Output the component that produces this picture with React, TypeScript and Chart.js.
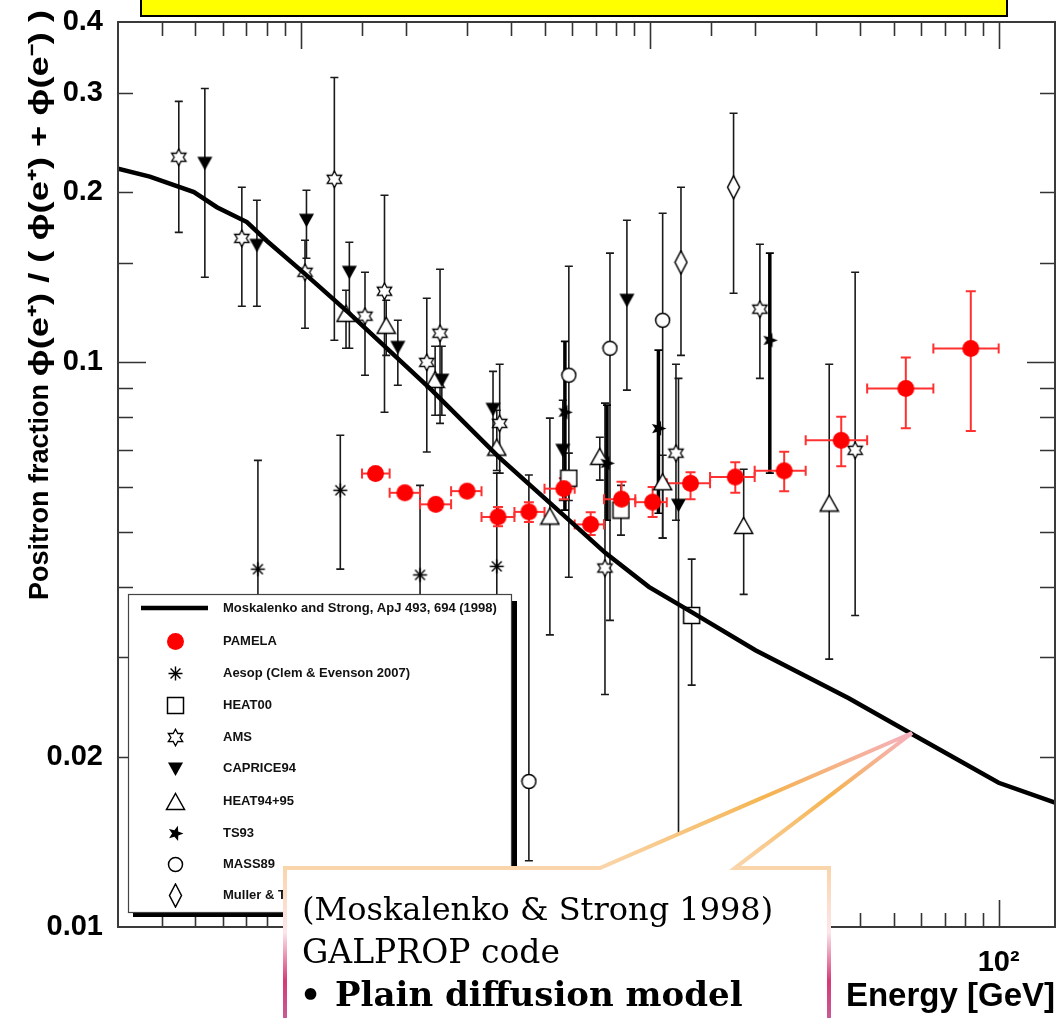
import React, { useEffect, useRef } from 'react';
import { Chart, registerables } from 'chart.js';

Chart.register(...registerables);

const FONT = '"Liberation Sans", Arial, Helvetica, sans-serif';

// ---------------- axes ----------------
const xRange = [0.3, 145];
const yRange = [0.01, 0.4];
const xLabelValues = [1, 10, 100];
const xLabelTexts = ['1', '10', '10²'];
const yLabelValues = [0.01, 0.02, 0.1, 0.2, 0.3, 0.4];
const yLabelTexts = ['0.01', '0.02', '0.1', '0.2', '0.3', '0.4'];
const xAxisTitle = 'Energy [GeV]';
const yAxisTitleParts = ['Positron fraction ', 'ϕ(e⁺) / ( ϕ(e⁺) + ϕ(e⁻) )'];

// ---------------- model curve (Moskalenko & Strong 1998) ----------------
const curveE = [0.3, 0.37, 0.495, 0.576, 0.702, 0.8, 1.02, 1.38, 2.38, 3.7, 5.74, 7.48, 9.95, 13.2, 20.1, 37.2, 56.1, 100, 145];
const curveF = [0.22, 0.213, 0.2, 0.188, 0.177, 0.164, 0.144, 0.122, 0.0891, 0.0679, 0.0532, 0.0459, 0.04, 0.0361, 0.0309, 0.0254, 0.022, 0.018, 0.0166];

// ---------------- PAMELA ----------------
const pamelaE = [1.64, 1.99, 2.44, 3.0, 3.68, 4.51, 5.68, 6.78, 8.31, 10.2, 13.1, 17.6, 24.3, 35.4, 54.2, 83.2];
const pamelaElo = [1.5, 1.8, 2.2, 2.7, 3.3, 4.1, 5.0, 6.1, 7.4, 9.1, 11.2, 14.9, 20, 28, 42, 65];
const pamelaEhi = [1.8, 2.2, 2.7, 3.3, 4.1, 5.0, 6.1, 7.4, 9.1, 11.2, 14.9, 20, 28, 42, 65, 100];
const pamelaF = [0.0635, 0.0587, 0.056, 0.0591, 0.0532, 0.0543, 0.0597, 0.0516, 0.0572, 0.0565, 0.061, 0.0626, 0.0642, 0.0727, 0.0898, 0.1057];
const pamelaFlo = [0.0624, 0.0576, 0.0549, 0.0579, 0.0512, 0.0521, 0.0572, 0.0494, 0.0547, 0.0532, 0.0572, 0.0587, 0.0591, 0.0654, 0.0764, 0.0755];
const pamelaFhi = [0.0646, 0.0598, 0.0571, 0.0603, 0.0554, 0.0565, 0.0623, 0.0542, 0.0614, 0.0601, 0.0638, 0.0665, 0.0694, 0.08, 0.1019, 0.1335];

// ---------------- AMS ----------------
const amsE = [0.448, 0.679, 1.03, 1.25, 1.53, 1.74, 2.3, 2.51, 3.72, 7.45, 11.9, 20.7, 38.8];
const amsF = [0.2305, 0.1656, 0.1442, 0.2107, 0.1206, 0.1335, 0.0999, 0.1125, 0.0779, 0.0432, 0.069, 0.1241, 0.0698];
const amsLo = [0.1697, 0.1256, 0.1148, 0.1093, 0.0948, 0.0815, 0.0693, 0.0779, 0.0636, 0.0258, 0.0525, 0.0936, 0.0356];
const amsHi = [0.2894, 0.204, 0.1643, 0.319, 0.1442, 0.1974, 0.1297, 0.146, 0.0991, 0.0846, 0.0991, 0.1617, 0.1442];

// ---------------- CAPRICE94 ----------------
const capE = [0.532, 0.75, 1.04, 1.38, 1.9, 2.54, 3.56, 5.64, 8.61, 12.1];
const capF = [0.2249, 0.161, 0.1783, 0.1442, 0.1062, 0.0929, 0.0825, 0.0698, 0.1287, 0.0558];
const capLo = [0.1413, 0.1256, 0.1527, 0.1058, 0.091, 0.0805, 0.0698, 0.0569, 0.0892, 0.012];
const capHi = [0.305, 0.1934, 0.2015, 0.163, 0.1186, 0.1067, 0.0963, 0.0856, 0.1783, 0.0936];

// ---------------- HEAT94+95 ----------------
const heat95E = [1.35, 1.76, 2.43, 3.65, 5.18, 7.2, 10.9, 18.6, 32.7];
const heat95F = [0.122, 0.1162, 0.0932, 0.0707, 0.0534, 0.0681, 0.0614, 0.0514, 0.0563];
const heat95Lo = [0.1058, 0.1028, 0.0805, 0.0643, 0.0329, 0.0618, 0.0488, 0.0388, 0.0298];
const heat95Hi = [0.134, 0.1287, 0.1067, 0.0822, 0.0796, 0.0736, 0.0684, 0.0646, 0.0991];

// ---------------- HEAT00 ----------------
const heat00E = [5.87, 8.28, 13.2];
const heat00F = [0.0623, 0.0547, 0.0356];
const heat00Lo = [0.0569, 0.0494, 0.0268];
const heat00Hi = [0.069, 0.0605, 0.0448];

// ---------------- TS93 ----------------
const ts93E = [5.72, 7.55, 10.6, 22.1];
const ts93F = [0.0815, 0.0662, 0.0763, 0.1093];
const ts93Lo = [0.0547, 0.0525, 0.054, 0.0636];
const ts93Hi = [0.1088, 0.0839, 0.105, 0.1559];

// ---------------- MASS89 ----------------
const massE = [4.51, 5.87, 7.7, 10.9];
const massF = [0.0181, 0.0948, 0.1058, 0.1186];
const massLo = [0.0131, 0.0416, 0.0349, 0.0488];
const massHi = [0.0631, 0.1478, 0.1559, 0.1834];

// ---------------- Muller & Tang ----------------
const mullerE = [12.3, 17.4];
const mullerF = [0.1502, 0.204];
const mullerLo = [0.1028, 0.1324];
const mullerHi = [0.204, 0.2757];

// ---------------- Aesop ----------------
const aesopE = [0.755, 1.3, 2.2, 3.65];
const aesopF = [0.043, 0.0593, 0.042, 0.0435];
const aesopLo = [0.025, 0.043, 0.028, 0.028];
const aesopHi = [0.067, 0.0742, 0.0605, 0.0636];

const legendLabels = [
  'Moskalenko and Strong, ApJ 493, 694 (1998)',
  'PAMELA',
  'Aesop (Clem & Evenson 2007)',
  'HEAT00',
  'AMS',
  'CAPRICE94',
  'HEAT94+95',
  'TS93',
  'MASS89',
  'Muller & Tang 1987',
];

const calloutLines = ['(Moskalenko & Strong 1998)', 'GALPROP code', 'Plain diffusion model'];

function pts(E: number[], F: number[], lo: number[], hi: number[], elo?: number[], ehi?: number[]) {
  return E.map((e, i) => ({
    x: e,
    y: F[i],
    yMin: lo[i],
    yMax: hi[i],
    xMin: elo ? elo[i] : undefined,
    xMax: ehi ? ehi[i] : undefined,
  }));
}

function mk(w: number, h: number, fn: (g: CanvasRenderingContext2D, cx: number, cy: number) => void) {
  const c = document.createElement('canvas');
  c.width = w;
  c.height = h;
  const g = c.getContext('2d') as CanvasRenderingContext2D;
  fn(g, w / 2, h / 2);
  return c;
}

function makeMarkers() {
  const pamela = mk(19, 19, (g, cx, cy) => {
    g.fillStyle = '#ff0000';
    g.beginPath();
    g.arc(cx, cy, 8.5, 0, Math.PI * 2);
    g.fill();
  });
  const aesop = mk(17, 17, (g, cx, cy) => {
    g.strokeStyle = '#000';
    g.lineWidth = 1.4;
    g.beginPath();
    for (let k = 0; k < 4; k++) {
      const a = (k * Math.PI) / 4;
      g.moveTo(cx - 7 * Math.cos(a), cy - 7 * Math.sin(a));
      g.lineTo(cx + 7 * Math.cos(a), cy + 7 * Math.sin(a));
    }
    g.stroke();
  });
  const heat00 = mk(19, 19, (g) => {
    g.fillStyle = '#fff';
    g.fillRect(1.5, 1.5, 16, 16);
    g.strokeStyle = '#000';
    g.lineWidth = 1.5;
    g.strokeRect(1.5, 1.5, 16, 16);
  });
  const ams = mk(19, 19, (g, cx, cy) => {
    g.beginPath();
    for (let i = 0; i < 12; i++) {
      const r = i % 2 === 0 ? 8.3 : 4.6;
      const a = -Math.PI / 2 + (i * Math.PI) / 6;
      const px = cx + r * Math.cos(a);
      const py = cy + r * Math.sin(a);
      if (i === 0) g.moveTo(px, py);
      else g.lineTo(px, py);
    }
    g.closePath();
    g.fillStyle = '#fff';
    g.fill();
    g.strokeStyle = '#000';
    g.lineWidth = 1.3;
    g.stroke();
  });
  const caprice = mk(17, 16, (g) => {
    g.fillStyle = '#000';
    g.beginPath();
    g.moveTo(1, 1.5);
    g.lineTo(16, 1.5);
    g.lineTo(8.5, 15);
    g.closePath();
    g.fill();
  });
  const heat95 = mk(21, 19, (g) => {
    g.beginPath();
    g.moveTo(10.5, 1.5);
    g.lineTo(19.5, 17.5);
    g.lineTo(1.5, 17.5);
    g.closePath();
    g.fillStyle = '#fff';
    g.fill();
    g.strokeStyle = '#000';
    g.lineWidth = 1.5;
    g.stroke();
  });
  const ts93 = mk(17, 17, (g, cx, cy) => {
    g.beginPath();
    for (let i = 0; i < 10; i++) {
      const r = i % 2 === 0 ? 8 : 3.4;
      const a = -Math.PI / 2 + 0.3 + (i * Math.PI) / 5;
      const px = cx + r * Math.cos(a);
      const py = cy + r * Math.sin(a);
      if (i === 0) g.moveTo(px, py);
      else g.lineTo(px, py);
    }
    g.closePath();
    g.fillStyle = '#000';
    g.fill();
  });
  const mass89 = mk(17, 17, (g, cx, cy) => {
    g.beginPath();
    g.arc(cx, cy, 7, 0, Math.PI * 2);
    g.fillStyle = '#fff';
    g.fill();
    g.strokeStyle = '#000';
    g.lineWidth = 1.5;
    g.stroke();
  });
  const muller = mk(15, 25, (g) => {
    g.beginPath();
    g.moveTo(7.5, 1);
    g.lineTo(13.5, 12.5);
    g.lineTo(7.5, 24);
    g.lineTo(1.5, 12.5);
    g.closePath();
    g.fillStyle = '#fff';
    g.fill();
    g.strokeStyle = '#000';
    g.lineWidth = 1.5;
    g.stroke();
  });
  return { pamela, aesop, heat00, ams, caprice, heat95, ts93, mass89, muller };
}

function matchLabel(v: number, vals: number[], texts: string[]) {
  for (let i = 0; i < vals.length; i++) {
    if (Math.abs(v - vals[i]) / vals[i] < 1e-6) return texts[i];
  }
  return '';
}

function zeroPad(s: any) {
  s.paddingTop = 0;
  s.paddingBottom = 0;
  s.paddingLeft = 0;
  s.paddingRight = 0;
}

export default function App() {
  const ref = useRef<HTMLCanvasElement | null>(null);

  useEffect(() => {
    const canvas = ref.current;
    if (!canvas) return;
    const M = makeMarkers();

    const errorBars = {
      id: 'errorBars',
      beforeDatasetsDraw(chart: any) {
        const { ctx, chartArea: a, scales } = chart;
        const xs = scales.x;
        const ys = scales.y;
        ctx.save();
        ctx.beginPath();
        ctx.rect(a.left, a.top, a.right - a.left, a.bottom - a.top);
        ctx.clip();
        for (let i = chart.data.datasets.length - 1; i >= 0; i--) {
          const ds = chart.data.datasets[i];
          if (!ds.errColor) continue;
          ctx.strokeStyle = ds.errColor;
          const cap = ds.capHalf;
          for (const p of ds.data) {
            const px = xs.getPixelForValue(p.x);
            const py = ys.getPixelForValue(p.y);
            if (p.yMin != null) {
              const y1 = ys.getPixelForValue(p.yMin);
              const y2 = ys.getPixelForValue(p.yMax);
              ctx.lineWidth = ds.errWidth;
              ctx.beginPath();
              ctx.moveTo(px, y1);
              ctx.lineTo(px, y2);
              ctx.stroke();
              ctx.lineWidth = ds.capWidth;
              ctx.beginPath();
              ctx.moveTo(px - cap, y1);
              ctx.lineTo(px + cap, y1);
              ctx.moveTo(px - cap, y2);
              ctx.lineTo(px + cap, y2);
              ctx.stroke();
            }
            if (p.xMin != null) {
              const x1 = xs.getPixelForValue(p.xMin);
              const x2 = xs.getPixelForValue(p.xMax);
              ctx.lineWidth = ds.errWidth;
              ctx.beginPath();
              ctx.moveTo(x1, py);
              ctx.lineTo(x2, py);
              ctx.stroke();
              ctx.lineWidth = ds.capWidth;
              ctx.beginPath();
              ctx.moveTo(x1, py - cap);
              ctx.lineTo(x1, py + cap);
              ctx.moveTo(x2, py - cap);
              ctx.lineTo(x2, py + cap);
              ctx.stroke();
            }
          }
        }
        ctx.restore();
      },
    };

    const legendMarkers = [null, M.pamela, M.aesop, M.heat00, M.ams, M.caprice, M.heat95, M.ts93, M.mass89, M.muller];
    const legendRowsY = [608, 641.5, 673.5, 705, 737, 768.5, 801, 833, 864, 895];

    const frameAndLegend = {
      id: 'frameAndLegend',
      afterDatasetsDraw(chart: any) {
        const { ctx, chartArea: a, scales } = chart;
        const xs = scales.x;
        const ys = scales.y;
        ctx.save();
        ctx.strokeStyle = '#333';
        ctx.lineWidth = 1.6;
        ctx.beginPath();
        for (const t of xs.ticks) {
          const px = Math.round(xs.getPixelForValue(t.value)) + 0.5;
          if (px < a.left + 2 || px > a.right - 2) continue;
          const len = t.major ? 27 : 14;
          ctx.moveTo(px, a.top);
          ctx.lineTo(px, a.top + len);
          ctx.moveTo(px, a.bottom);
          ctx.lineTo(px, a.bottom - len);
        }
        for (const t of ys.ticks) {
          const py = Math.round(ys.getPixelForValue(t.value)) + 0.5;
          if (py < a.top + 2 || py > a.bottom - 2) continue;
          const len = t.major ? 28 : 15;
          ctx.moveTo(a.left, py);
          ctx.lineTo(a.left + len, py);
          ctx.moveTo(a.right, py);
          ctx.lineTo(a.right - len, py);
        }
        ctx.stroke();
        ctx.lineWidth = 2;
        ctx.strokeStyle = '#3a3a3a';
        ctx.strokeRect(a.left, a.top, a.right - a.left, a.bottom - a.top);

        // legend box
        const L = 128, T = 594, R = 511, B = 912;
        ctx.fillStyle = '#000';
        ctx.fillRect(R, T + 7, 6, B - T + 4);
        ctx.fillRect(L + 5, B, R - L + 6, 5);
        ctx.fillStyle = '#fff';
        ctx.fillRect(L, T, R - L, B - T);
        ctx.strokeStyle = '#444';
        ctx.lineWidth = 1.2;
        ctx.strokeRect(L + 0.5, T + 0.5, R - L, B - T);

        ctx.font = `bold 13px ${FONT}`;
        ctx.textBaseline = 'middle';
        ctx.textAlign = 'left';
        ctx.fillStyle = '#111';
        for (let i = 0; i < legendLabels.length; i++) {
          const yy = legendRowsY[i];
          const mkr = legendMarkers[i];
          if (mkr) {
            ctx.drawImage(mkr, Math.round(175 - mkr.width / 2), Math.round(yy - mkr.height / 2));
          } else {
            ctx.strokeStyle = '#000';
            ctx.lineWidth = 4.5;
            ctx.beginPath();
            ctx.moveTo(141, yy);
            ctx.lineTo(208, yy);
            ctx.stroke();
          }
          ctx.fillText(legendLabels[i], 223, yy);
        }
        ctx.restore();
      },
      afterDraw(chart: any) {
        // rotated y-axis title, bottom-to-top
        const { ctx } = chart;
        ctx.save();
        ctx.translate(41, 600);
        ctx.rotate(-Math.PI / 2);
        ctx.font = `bold 27px ${FONT}`;
        ctx.fillStyle = '#000';
        ctx.textBaseline = 'middle';
        ctx.textAlign = 'left';
        ctx.fillText(yAxisTitleParts[0], 0, 0);
        const w0 = ctx.measureText(yAxisTitleParts[0]).width;
        const w1 = ctx.measureText(yAxisTitleParts[1]).width;
        ctx.translate(w0, 0);
        ctx.scale(Math.max(1, (590 - w0) / w1), 1);
        ctx.fillText(yAxisTitleParts[1], 0, 0);
        ctx.restore();
      },
    };

    const black = '#1a1a1a';
    const datasets: any[] = [
      {
        label: 'PAMELA',
        data: pts(pamelaE, pamelaF, pamelaFlo, pamelaFhi, pamelaElo, pamelaEhi),
        pointStyle: M.pamela,
        pointRadius: 6,
        errColor: '#ff3030',
        errWidth: 2,
        capWidth: 2,
        capHalf: 5,
      },
      {
        label: 'Moskalenko and Strong',
        data: curveE.map((e, i) => ({ x: e, y: curveF[i] })),
        showLine: true,
        borderColor: '#000',
        borderWidth: 4.5,
        pointRadius: 0,
        tension: 0,
        fill: false,
      },
      { label: 'TS93', data: pts(ts93E, ts93F, ts93Lo, ts93Hi), pointStyle: M.ts93, pointRadius: 6, errColor: '#000', errWidth: 3.5, capWidth: 1.6, capHalf: 4 },
      { label: 'CAPRICE94', data: pts(capE, capF, capLo, capHi), pointStyle: M.caprice, pointRadius: 6, errColor: black, errWidth: 1.6, capWidth: 1.6, capHalf: 4 },
      { label: 'AMS', data: pts(amsE, amsF, amsLo, amsHi), pointStyle: M.ams, pointRadius: 6, errColor: black, errWidth: 1.6, capWidth: 1.6, capHalf: 4 },
      { label: 'HEAT94+95', data: pts(heat95E, heat95F, heat95Lo, heat95Hi), pointStyle: M.heat95, pointRadius: 6, errColor: black, errWidth: 1.6, capWidth: 1.6, capHalf: 4 },
      { label: 'HEAT00', data: pts(heat00E, heat00F, heat00Lo, heat00Hi), pointStyle: M.heat00, pointRadius: 6, errColor: black, errWidth: 1.6, capWidth: 1.6, capHalf: 4 },
      { label: 'MASS89', data: pts(massE, massF, massLo, massHi), pointStyle: M.mass89, pointRadius: 6, errColor: black, errWidth: 1.6, capWidth: 1.6, capHalf: 4 },
      { label: 'Muller & Tang', data: pts(mullerE, mullerF, mullerLo, mullerHi), pointStyle: M.muller, pointRadius: 6, errColor: black, errWidth: 1.6, capWidth: 1.6, capHalf: 4 },
      { label: 'Aesop', data: pts(aesopE, aesopF, aesopLo, aesopHi), pointStyle: M.aesop, pointRadius: 6, errColor: black, errWidth: 1.6, capWidth: 1.6, capHalf: 4 },
    ];

    const chart = new Chart(canvas, {
      type: 'scatter',
      data: { datasets },
      options: {
        animation: false,
        responsive: false,
        maintainAspectRatio: false,
        devicePixelRatio: 1,
        layout: { padding: { left: 0, top: 22, right: 6, bottom: 0 } },
        plugins: { legend: { display: false }, tooltip: { enabled: false } },
        scales: {
          x: {
            type: 'logarithmic',
            min: xRange[0],
            max: xRange[1],
            grid: { display: false, drawTicks: false },
            border: { display: false },
            afterFit: (s: any) => {
              s.height = 91;
              zeroPad(s);
            },
            ticks: {
              autoSkip: false,
              maxRotation: 0,
              padding: 19,
              color: '#000',
              font: { family: FONT, size: 29, weight: 'bold' },
              callback: (v: any) => matchLabel(Number(v), xLabelValues, xLabelTexts),
            },
            title: {
              display: true,
              text: xAxisTitle,
              align: 'end',
              color: '#000',
              font: { family: FONT, size: 33, weight: 'bold', lineHeight: 1.2 },
              padding: { top: 0, bottom: 1 },
            },
          },
          y: {
            type: 'logarithmic',
            min: yRange[0],
            max: yRange[1],
            grid: { display: false, drawTicks: false },
            border: { display: false },
            afterFit: (s: any) => {
              s.width = 118;
              zeroPad(s);
            },
            ticks: {
              autoSkip: false,
              padding: 15,
              color: '#000',
              font: { family: FONT, size: 29, weight: 'bold' },
              callback: (v: any) => matchLabel(Number(v), yLabelValues, yLabelTexts),
            },
            title: { display: false },
          },
        },
      } as any,
      plugins: [errorBars, frameAndLegend],
    });

    return () => {
      chart.destroy();
    };
  }, []);

  const serif = '"DejaVu Serif", Georgia, serif';

  return (
    <div style={{ position: 'absolute', left: 0, top: 0, width: 1062, height: 1018, overflow: 'hidden', background: '#fff' }}>
      <canvas ref={ref} width={1062} height={1018} style={{ position: 'absolute', left: 0, top: 0, width: 1062, height: 1018 }} />
      <div
        style={{
          position: 'absolute',
          left: 140,
          top: -4,
          width: 868,
          height: 21,
          boxSizing: 'border-box',
          background: '#ffff00',
          border: '2px solid #000',
        }}
      />
      <svg width={1062} height={1018} style={{ position: 'absolute', left: 0, top: 0 }}>
        <defs>
          <linearGradient id="calloutGrad" gradientUnits="userSpaceOnUse" x1="0" y1="733" x2="0" y2="1018">
            <stop offset="0" stopColor="#f6b0c0" />
            <stop offset="0.22" stopColor="#f5b450" />
            <stop offset="0.47" stopColor="#fad5aa" />
            <stop offset="0.7" stopColor="#fbe6ea" />
            <stop offset="0.87" stopColor="#d63a78" />
            <stop offset="1" stopColor="#c85a96" />
          </linearGradient>
        </defs>
        <path
          d="M285,868 L600,868 L912,733 L735,868 L829,868 L829,1030 L285,1030 Z"
          fill="#ffffff"
          stroke="url(#calloutGrad)"
          strokeWidth={4}
          strokeLinejoin="miter"
        />
        <text x={302} y={920} fontFamily={serif} fontSize={32} fill="#000">
          {calloutLines[0]}
        </text>
        <text x={302} y={963} fontFamily={serif} fontSize={33} fill="#000">
          {calloutLines[1]}
        </text>
        <text x={300} y={1006} fontFamily={serif} fontSize={33} fontWeight="bold" fill="#000">
          •
        </text>
        <text x={335} y={1006} fontFamily={serif} fontSize={34} fontWeight="bold" fill="#000">
          {calloutLines[2]}
        </text>
      </svg>
    </div>
  );
}
